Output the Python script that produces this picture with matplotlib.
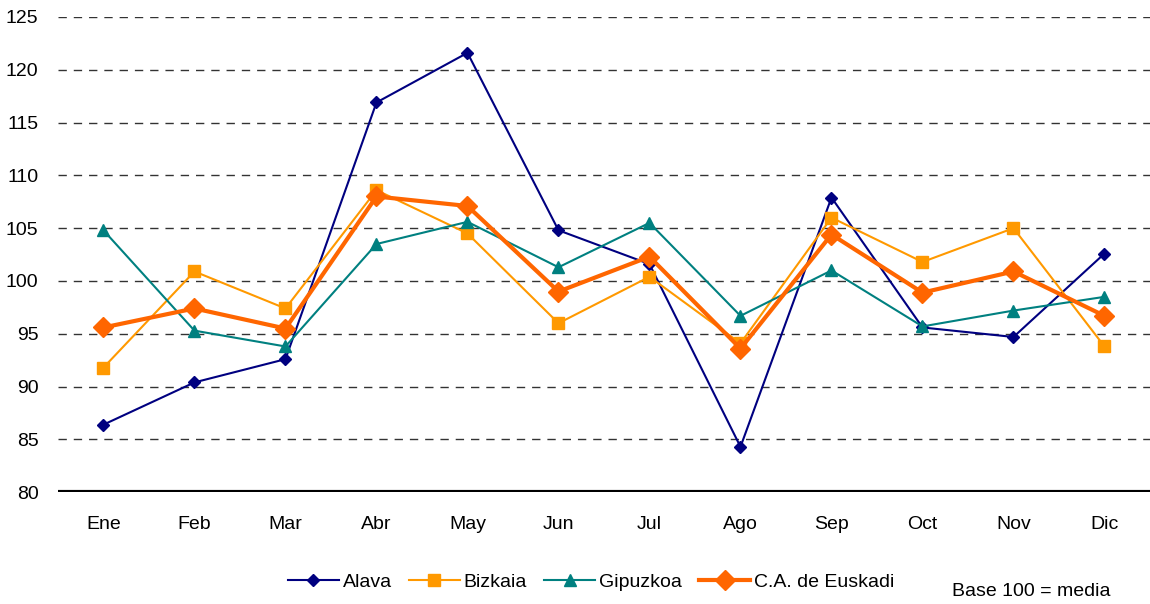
import numpy as np
import matplotlib.pyplot as plt

plt.rcParams['font.family'] = ['Liberation Sans', 'DejaVu Sans']

# Monthly index by territory (base 100 = mean)
months = ['Ene', 'Feb', 'Mar', 'Abr', 'May', 'Jun', 'Jul', 'Ago', 'Sep', 'Oct', 'Nov', 'Dic']
alava = [86.4, 90.4, 92.6, 116.9, 121.6, 104.8, 101.6, 84.3, 107.9, 95.6, 94.7, 102.6]
bizkaia = [91.8, 100.9, 97.4, 108.6, 104.5, 96.0, 100.4, 94.1, 106.0, 101.8, 105.0, 93.8]
gipuzkoa = [104.8, 95.3, 93.8, 103.5, 105.6, 101.3, 105.5, 96.7, 101.0, 95.7, 97.2, 98.5]
euskadi = [95.6, 97.4, 95.5, 108.0, 107.1, 99.0, 102.3, 93.6, 104.4, 98.9, 100.9, 96.7]

x = np.arange(len(months))

fig = plt.figure(figsize=(11.5, 6.04), dpi=100)
ax = fig.add_axes([0.0504, 0.185, 0.9496, 0.787])

ax.plot(x, alava, color='#000080', lw=1.5, marker='D', ms=6, label='Alava', zorder=3)
ax.plot(x, bizkaia, color='#FF9900', lw=1.5, marker='s', ms=8, label='Bizkaia', zorder=3)
ax.plot(x, gipuzkoa, color='#008080', lw=1.5, marker='^', ms=8, label='Gipuzkoa', zorder=3)
ax.plot(x, euskadi, color='#FF6600', lw=3, marker='D', ms=10, label='C.A. de Euskadi', zorder=4)

ax.set_xlim(-0.5, 11.5)
ax.set_ylim(80, 125)
ax.set_yticks(range(80, 126, 5))
ax.set_xticks(x)
ax.set_xticklabels(months)
ax.tick_params(length=0, labelsize=14, colors='black')
ax.tick_params(axis='x', pad=17)
ax.tick_params(axis='y', pad=14)

for v in range(85, 126, 5):
    ax.axhline(v, color='#333333', lw=1, ls=(0, (6, 5)), zorder=1)
ax.axhline(80, color='black', lw=3, zorder=2)

for s in ax.spines.values():
    s.set_visible(False)

fig.legend(loc='center', bbox_to_anchor=(0.514, 0.036), ncol=4, frameon=False,
           fontsize=14, handlelength=2.6, handletextpad=0.2, columnspacing=0.9)
fig.text(0.966, 0.02, 'Base 100 = media', ha='right', va='center', fontsize=14)

fig.savefig('out.png', dpi=100)
